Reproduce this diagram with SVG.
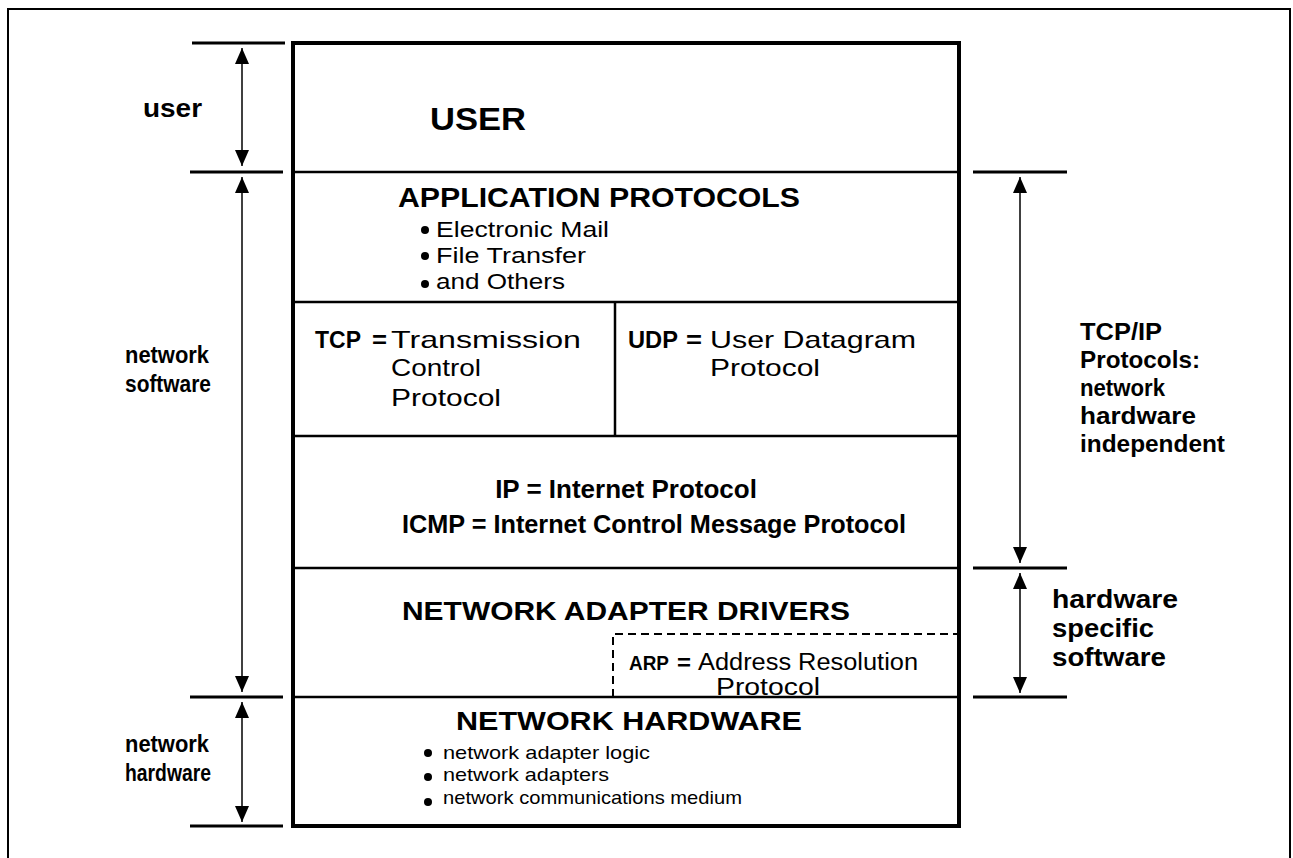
<svg xmlns="http://www.w3.org/2000/svg" width="1293" height="858" viewBox="0 0 1293 858">
<style>
.frame{fill:none;stroke:#000;stroke-width:2}
.box{fill:none;stroke:#000;stroke-width:4}
.div{stroke:#000;stroke-width:2.5;fill:none}
.tick{stroke:#000;stroke-width:3}
.arr{stroke:#000;stroke-width:1.5;marker-start:url(#ah);marker-end:url(#ah)}
.dash{fill:none;stroke:#000;stroke-width:2;stroke-dasharray:8,5}
text{font-family:"Liberation Sans",Arial,sans-serif;fill:#000}
.b{font-weight:bold}
.l{font-size:24px;font-weight:bold}
.r{font-size:24px;font-weight:bold}
.h{font-size:26px;font-weight:bold}
.t{font-size:24px}
.a{font-size:22px}
.s{font-size:19px}
.c{text-anchor:middle}
</style>
<defs>
<marker id="ah" viewBox="0 0 16 14" refX="16" refY="7" markerWidth="16" markerHeight="14" markerUnits="userSpaceOnUse" orient="auto-start-reverse">
<path d="M0,0 L16,7 L0,14 Z" fill="#000"/>
</marker>
</defs>
<rect class="frame" x="8" y="9" width="1282" height="860"/>

<g id="stack">
<rect class="box" x="293" y="43" width="666" height="783"/>
<line class="div" x1="293" y1="172" x2="959" y2="172"/>
<line class="div" x1="293" y1="302" x2="959" y2="302"/>
<line class="div" x1="293" y1="436" x2="959" y2="436"/>
<line class="div" x1="293" y1="568" x2="959" y2="568"/>
<line class="div" x1="293" y1="697" x2="959" y2="697"/>
<line class="div" x1="615" y1="302" x2="615" y2="436"/>
</g>

<g id="user-layer">
<text class="b" x="430" y="130" style="font-size:32px" textLength="96" lengthAdjust="spacingAndGlyphs">USER</text>
</g>
<g id="application">
<text class="b" x="398" y="207" style="font-size:27px" textLength="402" lengthAdjust="spacingAndGlyphs">APPLICATION PROTOCOLS</text>
<circle cx="425" cy="230" r="4"/><text class="a" x="436" y="237" textLength="173" lengthAdjust="spacingAndGlyphs">Electronic Mail</text>
<circle cx="425" cy="256" r="4"/><text class="a" x="436" y="263" textLength="150" lengthAdjust="spacingAndGlyphs">File Transfer</text>
<circle cx="425" cy="284" r="4"/><text class="a" x="436" y="289" textLength="129" lengthAdjust="spacingAndGlyphs">and Others</text>
</g>
<g id="tcp">
<text class="b" x="315" y="348" style="font-size:24px" textLength="46" lengthAdjust="spacingAndGlyphs">TCP</text>
<text class="b" x="372" y="348" style="font-size:24px" textLength="15" lengthAdjust="spacingAndGlyphs">=</text>
<text class="t" x="391" y="348" textLength="190" lengthAdjust="spacingAndGlyphs">Transmission</text>
<text class="t" x="391" y="376" textLength="90" lengthAdjust="spacingAndGlyphs">Control</text>
<text class="t" x="391" y="406" textLength="110" lengthAdjust="spacingAndGlyphs">Protocol</text>
</g>
<g id="udp">
<text class="b" x="628" y="348" style="font-size:24px" textLength="50" lengthAdjust="spacingAndGlyphs">UDP</text>
<text class="b" x="686" y="348" style="font-size:24px" textLength="16" lengthAdjust="spacingAndGlyphs">=</text>
<text class="t" x="710" y="348" textLength="206" lengthAdjust="spacingAndGlyphs">User Datagram</text>
<text class="t" x="710" y="376" textLength="110" lengthAdjust="spacingAndGlyphs">Protocol</text>
</g>
<g id="ip">
<text class="h c" x="626" y="498">IP = Internet Protocol</text>
<text class="h" x="402" y="533" textLength="504" lengthAdjust="spacingAndGlyphs">ICMP = Internet Control Message Protocol</text>
</g>
<g id="drivers">
<text class="h" x="402" y="620" textLength="448" lengthAdjust="spacingAndGlyphs">NETWORK ADAPTER DRIVERS</text>
<path class="dash" d="M613,697 L613,634 L959,634"/>
<text class="b" x="629" y="670" style="font-size:21px" textLength="40" lengthAdjust="spacingAndGlyphs">ARP</text>
<text class="b" x="677" y="670" style="font-size:22px" textLength="14" lengthAdjust="spacingAndGlyphs">=</text>
<text class="t" x="698" y="670" style="font-size:23px" textLength="220" lengthAdjust="spacingAndGlyphs">Address Resolution</text>
<text class="t" x="716" y="695" style="font-size:23px" textLength="104" lengthAdjust="spacingAndGlyphs">Protocol</text>
</g>
<g id="hardware">
<text class="h" x="456" y="730" textLength="346" lengthAdjust="spacingAndGlyphs">NETWORK HARDWARE</text>
<circle cx="428" cy="753" r="4"/><text class="s" x="443" y="759" textLength="207" lengthAdjust="spacingAndGlyphs">network adapter logic</text>
<circle cx="428" cy="777" r="4"/><text class="s" x="443" y="781" textLength="166" lengthAdjust="spacingAndGlyphs">network adapters</text>
<circle cx="428" cy="802" r="4"/><text class="s" x="443" y="804" textLength="299" lengthAdjust="spacingAndGlyphs">network communications medium</text>
</g>

<g id="left-scale">
<line class="tick" x1="192" y1="43" x2="285" y2="43"/>
<line class="tick" x1="190" y1="172" x2="283" y2="172"/>
<line class="tick" x1="190" y1="697" x2="283" y2="697"/>
<line class="tick" x1="190" y1="826" x2="283" y2="826"/>
<text class="l" x="143" y="117" style="font-size:26px" textLength="59" lengthAdjust="spacingAndGlyphs">user</text>
<text class="l" x="125" y="363" textLength="84" lengthAdjust="spacingAndGlyphs">network</text>
<text class="l" x="125" y="392" textLength="86" lengthAdjust="spacingAndGlyphs">software</text>
<text class="l" x="125" y="752" textLength="84" lengthAdjust="spacingAndGlyphs">network</text>
<text class="l" x="125" y="781" textLength="86" lengthAdjust="spacingAndGlyphs">hardware</text>
</g>
<g id="right-scale">
<line class="tick" x1="973" y1="172" x2="1067" y2="172"/>
<line class="tick" x1="973" y1="568" x2="1067" y2="568"/>
<line class="tick" x1="973" y1="697" x2="1067" y2="697"/>
<text class="r" x="1080" y="340" textLength="82" lengthAdjust="spacingAndGlyphs">TCP/IP</text>
<text class="r" x="1080" y="368" textLength="120" lengthAdjust="spacingAndGlyphs">Protocols:</text>
<text class="r" x="1080" y="396" textLength="85" lengthAdjust="spacingAndGlyphs">network</text>
<text class="r" x="1080" y="424" textLength="116" lengthAdjust="spacingAndGlyphs">hardware</text>
<text class="r" x="1080" y="452" textLength="145" lengthAdjust="spacingAndGlyphs">independent</text>
<text class="r" x="1052" y="608" style="font-size:26px" textLength="126" lengthAdjust="spacingAndGlyphs">hardware</text>
<text class="r" x="1052" y="637" style="font-size:26px" textLength="102" lengthAdjust="spacingAndGlyphs">specific</text>
<text class="r" x="1052" y="666" style="font-size:26px" textLength="114" lengthAdjust="spacingAndGlyphs">software</text>
</g>

<g id="connectors">
<line class="arr" x1="242" y1="48" x2="242" y2="166"/>
<line class="arr" x1="242" y1="177" x2="242" y2="692"/>
<line class="arr" x1="242" y1="702" x2="242" y2="822"/>
<line class="arr" x1="1020" y1="177" x2="1020" y2="563"/>
<line class="arr" x1="1020" y1="573" x2="1020" y2="693"/>
</g>
</svg>
